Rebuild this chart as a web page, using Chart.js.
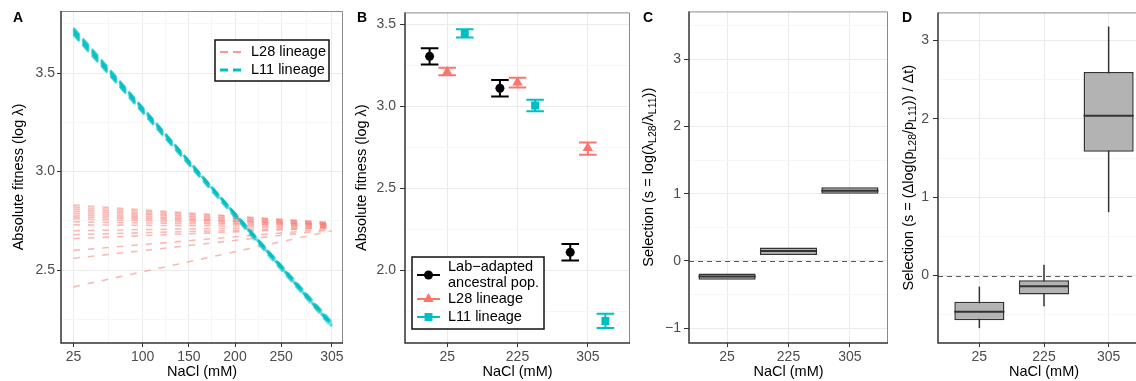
<!DOCTYPE html>
<html>
<head>
<meta charset="utf-8">
<script src="https://cdn.jsdelivr.net/npm/chart.js@4.4.1/dist/chart.umd.min.js"></script>
<style>
  html, body { margin: 0; padding: 0; background: #fff; }
  body { position: relative; width: 1136px; height: 381px; overflow: hidden; }
  canvas { position: absolute; top: 0; }
</style>
</head>
<body>
<canvas id="panelA" width="350" height="381" style="left:0px"></canvas>
<canvas id="panelB" width="286" height="381" style="left:350px"></canvas>
<canvas id="panelC" width="258" height="381" style="left:636px"></canvas>
<canvas id="panelD" width="260" height="381" style="left:894px"></canvas>
<script>
// panel A - fitted fitness vs salt, one line per replicate
var naclEnds = [25, 305];
var l28Start = [2.83, 2.82, 2.81, 2.80, 2.79, 2.78, 2.77, 2.76, 2.745, 2.73, 2.70, 2.68, 2.66, 2.60, 2.56, 2.415];
var l28End   = [2.74, 2.74, 2.735, 2.735, 2.73, 2.73, 2.73, 2.725, 2.725, 2.72, 2.72, 2.715, 2.715, 2.71, 2.705, 2.70];
var l11Start = [3.73, 3.725, 3.72, 3.715, 3.71, 3.705, 3.70, 3.695];
var l11End   = [2.215, 2.22, 2.225, 2.23, 2.22, 2.235, 2.21, 2.225];
var aXTicks = [25, 100, 150, 200, 250, 305];
var aXMinor = [62.5, 125, 175, 225, 277.5];
var aYTicks = [2.5, 3.0, 3.5];
var aYMinor = [2.25, 2.75, 3.25, 3.75];

// panel B - mean fitness with error bars
var salts = ['25', '225', '305'];
var ancMean = [3.305, 3.11, 2.11];
var ancLo   = [3.255, 3.06, 2.06];
var ancHi   = [3.355, 3.16, 2.16];
var l28Mean = [3.21, 3.145, 2.745];
var l28Lo   = [3.19, 3.115, 2.705];
var l28Hi   = [3.235, 3.175, 2.78];
var l11Mean = [3.445, 3.005, 1.69];
var l11Lo   = [3.42, 2.97, 1.648];
var l11Hi   = [3.47, 3.04, 1.735];
var bYTicks = [2.0, 2.5, 3.0, 3.5];
var bYMinor = [1.75, 2.25, 2.75, 3.25];

// panel C - selection from fitness ratio (boxes)
var cQ1  = [-0.28, 0.09, 1.0];
var cMed = [-0.233, 0.146, 1.045];
var cQ3  = [-0.185, 0.20, 1.095];
var cYTicks = [-1, 0, 1, 2, 3];
var cYMinor = [-0.5, 0.5, 1.5, 2.5, 3.5];

// panel D - selection from frequency change (boxplots)
var dLo  = [-0.67, -0.39, 0.81];
var dQ1  = [-0.57, -0.24, 1.58];
var dMed = [-0.46, -0.135, 2.04];
var dQ3  = [-0.335, -0.06, 2.60];
var dHi  = [-0.14, 0.14, 3.18];
var dYTicks = [0, 1, 2, 3];
var dYMinor = [-0.5, 0.5, 1.5, 2.5];

var FONT = '"Liberation Sans", Arial, Helvetica, sans-serif';
var RED = '#F8766D', CYAN = '#00BFC4';

function makeAxis(o) {
  var all = o.major.concat(o.minor || []).sort(function(a, b) { return a - b; });
  function isMajor(c) { return c.tick && o.major.indexOf(c.tick.value) >= 0; }
  var ax = {
    type: 'linear', min: o.min, max: o.max, offset: false,
    afterBuildTicks: function(s) { s.ticks = all.map(function(v) { return {value: v}; }); },
    ticks: {
      autoSkip: false, maxRotation: 0, padding: o.pad, color: '#4d4d4d',
      font: {family: FONT, size: 14},
      callback: function(v) { var i = o.major.indexOf(v); return i < 0 ? '' : o.labels[i]; }
    },
    grid: {
      offset: false,
      color: function(c) { return isMajor(c) ? '#ebebeb' : '#f6f6f6'; },
      tickColor: function(c) { return isMajor(c) ? '#333333' : 'rgba(0,0,0,0)'; },
      tickLength: o.tick, lineWidth: 1
    },
    border: {display: false}
  };
  if (o.width) ax.afterFit = function(s) { s.width = o.width; };
  if (o.height) ax.afterFit = function(s) { s.height = o.height; };
  return ax;
}

function drawYTitle(ctx, cx, cy, segs) {
  ctx.save();
  ctx.translate(cx, cy);
  ctx.rotate(-Math.PI / 2);
  var total = 0;
  segs.forEach(function(s) {
    ctx.font = (s.sub ? '10.5px ' : '14.5px ') + FONT;
    s.w = ctx.measureText(s.t).width;
    total += s.w;
  });
  var x = -total / 2;
  ctx.fillStyle = '#000';
  ctx.textAlign = 'left';
  ctx.textBaseline = 'middle';
  segs.forEach(function(s) {
    ctx.font = (s.sub ? '10.5px ' : '14.5px ') + FONT;
    ctx.fillText(s.t, x, s.sub ? 4 : 0);
    x += s.w;
  });
  ctx.restore();
}

// frame, panel letter and axis titles
function decor(o) {
  return {
    id: 'decor',
    beforeDatasetsDraw: function(chart) {
      var ctx = chart.ctx, a = chart.chartArea;
      if (o.zeroLine) {
        var y = Math.round(chart.scales.y.getPixelForValue(0)) + 0.5;
        ctx.save();
        ctx.strokeStyle = '#5a5a5a';
        ctx.lineWidth = 1;
        ctx.setLineDash([5, 4]);
        ctx.beginPath(); ctx.moveTo(a.left, y); ctx.lineTo(a.right, y); ctx.stroke();
        ctx.restore();
      }
      if (o.before) o.before(chart);
    },
    afterDatasetsDraw: function(chart) { if (o.after) o.after(chart); },
    afterDraw: function(chart) {
      var ctx = chart.ctx, a = chart.chartArea;
      ctx.save();
      ctx.strokeStyle = '#8a8a8a'; ctx.lineWidth = 1;
      ctx.beginPath();
      ctx.moveTo(a.left, a.top + 0.5); ctx.lineTo(a.right - 0.5, a.top + 0.5); ctx.lineTo(a.right - 0.5, a.bottom);
      ctx.stroke();
      ctx.strokeStyle = '#333333'; ctx.lineWidth = 1.5;
      ctx.beginPath();
      ctx.moveTo(a.left, a.top); ctx.lineTo(a.left, a.bottom); ctx.lineTo(a.right, a.bottom);
      ctx.stroke();
      ctx.fillStyle = '#000';
      ctx.font = 'bold 14px ' + FONT;
      ctx.textAlign = 'left'; ctx.textBaseline = 'middle';
      ctx.fillText(o.letter, o.letterX, 18.5);
      ctx.font = '14.5px ' + FONT;
      ctx.textAlign = 'center';
      ctx.fillText('NaCl (mM)', (a.left + a.right) / 2, 371.5);
      ctx.restore();
      drawYTitle(ctx, o.yTitleX, (a.top + a.bottom) / 2, o.yTitle);
      if (o.legend) o.legend(ctx);
    }
  };
}

function baseOptions(pad) {
  return {
    responsive: false, animation: false, devicePixelRatio: 1,
    layout: {padding: {top: 11, right: pad, left: 0, bottom: 0}},
    plugins: {legend: {display: false}, tooltip: {enabled: false}}
  };
}

// ---------- A ----------
var dsA = [];
l11Start.forEach(function(v, i) {
  dsA.push({data: [{x: naclEnds[0], y: v}, {x: naclEnds[1], y: l11End[i]}],
    borderColor: 'rgba(0,191,196,0.55)', borderWidth: 2.6, borderDash: [9, 5],
    pointRadius: 0, fill: false, order: 0});
});
l28Start.forEach(function(v, i) {
  dsA.push({data: [{x: naclEnds[0], y: v}, {x: naclEnds[1], y: l28End[i]}],
    borderColor: 'rgba(248,118,109,0.5)', borderWidth: 1.6, borderDash: [6.5, 8],
    pointRadius: 0, fill: false, order: 1});
});

var optA = baseOptions(7);
optA.scales = {
  x: makeAxis({min: 11.5, max: 317, major: aXTicks, minor: aXMinor, labels: aXTicks.map(String), pad: 2, tick: 4, height: 38}),
  y: makeAxis({min: 2.13, max: 3.815, major: aYTicks, minor: aYMinor, labels: aYTicks.map(function(v) { return v.toFixed(1); }), pad: 2, tick: 4, width: 61})
};
new Chart(document.getElementById('panelA'), {
  type: 'line',
  data: {datasets: dsA},
  options: optA,
  plugins: [decor({
    letter: 'A', letterX: 13, yTitleX: 19,
    yTitle: [{t: 'Absolute fitness (log λ)'}],
    legend: function(ctx) {
      ctx.save();
      ctx.fillStyle = '#fff';
      ctx.fillRect(215, 40, 114, 41);
      ctx.strokeStyle = '#111'; ctx.lineWidth = 1.5;
      ctx.strokeRect(215, 40, 114, 41);
      var rows = [{c: 'rgba(248,118,109,0.75)', w: 1.8, t: 'L28 lineage', y: 52},
                  {c: CYAN, w: 3, t: 'L11 lineage', y: 70}];
      rows.forEach(function(r) {
        ctx.strokeStyle = r.c; ctx.lineWidth = r.w; ctx.setLineDash([8, 5]);
        ctx.beginPath(); ctx.moveTo(220, r.y); ctx.lineTo(243, r.y); ctx.stroke();
        ctx.setLineDash([]);
        ctx.fillStyle = '#000'; ctx.font = '14.5px ' + FONT;
        ctx.textAlign = 'left'; ctx.textBaseline = 'middle';
        ctx.fillText(r.t, 251, r.y);
      });
      ctx.restore();
    }
  })]
});

// ---------- B ----------
var seriesB = [
  {name: ['Lab\u2212adapted', 'ancestral pop.'], mean: ancMean, lo: ancLo, hi: ancHi, off: -0.25, color: '#000000', style: 'circle', r: 4.5},
  {name: ['L28 lineage'], mean: l28Mean, lo: l28Lo, hi: l28Hi, off: 0, color: RED, style: 'triangle', r: 6},
  {name: ['L11 lineage'], mean: l11Mean, lo: l11Lo, hi: l11Hi, off: 0.25, color: CYAN, style: 'rect', r: 5.6}
];
var dsB = seriesB.map(function(s) {
  return {
    data: s.mean.map(function(v, i) { return {x: i + 1 + s.off, y: v}; }),
    pointStyle: s.style, pointRadius: s.r, backgroundColor: s.color, borderColor: s.color,
    borderWidth: 0, showLine: false
  };
});

function marker(ctx, style, x, y, r) {
  ctx.beginPath();
  if (style === 'circle') {
    ctx.arc(x, y, r, 0, Math.PI * 2);
  } else if (style === 'triangle') {
    ctx.moveTo(x, y - r); ctx.lineTo(x + 0.866 * r, y + 0.5 * r); ctx.lineTo(x - 0.866 * r, y + 0.5 * r);
    ctx.closePath();
  } else {
    var h = r * Math.SQRT1_2;
    ctx.rect(x - h, y - h, 2 * h, 2 * h);
  }
  ctx.fill();
}

var optB = baseOptions(6);
optB.scales = {
  x: makeAxis({min: 0.4, max: 3.6, major: [1, 2, 3], labels: salts, pad: 2, tick: 4, height: 38}),
  y: makeAxis({min: 1.556, max: 3.573, major: bYTicks, labels: bYTicks.map(function(v) { return v.toFixed(1); }), minor: bYMinor, pad: 4, tick: 5, width: 55})
};
new Chart(document.getElementById('panelB'), {
  type: 'scatter',
  data: {datasets: dsB},
  options: optB,
  plugins: [decor({
    letter: 'B', letterX: 7, yTitleX: 12,
    yTitle: [{t: 'Absolute fitness (log λ)'}],
    before: function(chart) {
      var ctx = chart.ctx, xs = chart.scales.x, ys = chart.scales.y;
      ctx.save();
      ctx.lineWidth = 2;
      seriesB.forEach(function(s) {
        ctx.strokeStyle = s.color;
        s.mean.forEach(function(v, i) {
          var xc = xs.getPixelForValue(i + 1 + s.off);
          var xl = xs.getPixelForValue(i + 1 + s.off - 0.125);
          var xr = xs.getPixelForValue(i + 1 + s.off + 0.125);
          var y1 = ys.getPixelForValue(s.lo[i]), y2 = ys.getPixelForValue(s.hi[i]);
          ctx.beginPath();
          ctx.moveTo(xc, y1); ctx.lineTo(xc, y2);
          ctx.moveTo(xl, y1); ctx.lineTo(xr, y1);
          ctx.moveTo(xl, y2); ctx.lineTo(xr, y2);
          ctx.stroke();
        });
      });
      ctx.restore();
    },
    legend: function(ctx) {
      ctx.save();
      ctx.fillStyle = '#fff';
      ctx.fillRect(62, 257, 132, 72);
      ctx.strokeStyle = '#111'; ctx.lineWidth = 1.5;
      ctx.strokeRect(62, 257, 132, 72);
      var ys = [275, 299, 317];
      ctx.font = '14.5px ' + FONT;
      ctx.textAlign = 'left'; ctx.textBaseline = 'middle';
      seriesB.forEach(function(s, k) {
        var y = ys[k];
        ctx.strokeStyle = s.color; ctx.fillStyle = s.color; ctx.lineWidth = 2;
        ctx.beginPath(); ctx.moveTo(67, y); ctx.lineTo(90, y); ctx.stroke();
        marker(ctx, s.style, 78.5, y, s.r);
        ctx.fillStyle = '#000';
        if (s.name.length === 2) {
          ctx.fillText(s.name[0], 98, y - 8);
          ctx.fillText(s.name[1], 98, y + 8);
        } else {
          ctx.fillText(s.name[0], 98, y);
        }
      });
      ctx.restore();
    }
  })]
});

// ---------- C and D (boxes) ----------
function boxData(q1, q3) {
  return q1.map(function(v, i) { return {x: i + 1, y: [v, q3[i]]}; });
}
function boxPlugin(med, lo, hi) {
  return {
    before: function(chart) {
      if (!lo) return;
      var ctx = chart.ctx, ys = chart.scales.y, meta = chart.getDatasetMeta(0);
      ctx.save();
      ctx.strokeStyle = '#333333'; ctx.lineWidth = 1.5;
      meta.data.forEach(function(el, i) {
        ctx.beginPath();
        ctx.moveTo(el.x, ys.getPixelForValue(lo[i]));
        ctx.lineTo(el.x, ys.getPixelForValue(hi[i]));
        ctx.stroke();
      });
      ctx.restore();
    },
    after: function(chart) {
      var ctx = chart.ctx, ys = chart.scales.y, meta = chart.getDatasetMeta(0);
      ctx.save();
      ctx.strokeStyle = '#333333'; ctx.lineWidth = 2;
      meta.data.forEach(function(el, i) {
        var y = ys.getPixelForValue(med[i]);
        ctx.beginPath();
        ctx.moveTo(el.x - el.width / 2, y); ctx.lineTo(el.x + el.width / 2, y);
        ctx.stroke();
      });
      ctx.restore();
    }
  };
}

var optC = baseOptions(6);
optC.scales = {
  x: makeAxis({min: 0.38, max: 3.62, major: [1, 2, 3], labels: salts, pad: 2, tick: 4, height: 38}),
  y: makeAxis({min: -1.22, max: 3.71, major: cYTicks, minor: cYMinor, labels: cYTicks.map(function(v) { return v < 0 ? '\u2212' + Math.abs(v) : String(v); }), pad: 3, tick: 5, width: 53})
};
var bpC = boxPlugin(cMed, null, null);
new Chart(document.getElementById('panelC'), {
  type: 'bar',
  data: {datasets: [{data: boxData(cQ1, cQ3), backgroundColor: '#b3b3b3', borderColor: '#333333',
    borderWidth: 1.5, borderSkipped: false, categoryPercentage: 1, barPercentage: 0.93}]},
  options: optC,
  plugins: [decor({
    letter: 'C', letterX: 7, yTitleX: 13, zeroLine: true,
    yTitle: [{t: 'Selection (s = log(λ'}, {t: 'L28', sub: true}, {t: '/λ'}, {t: 'L11', sub: true}, {t: '))'}],
    before: bpC.before, after: bpC.after
  })]
});

var optD = baseOptions(4);
optD.scales = {
  x: makeAxis({min: 0.36, max: 3.64, major: [1, 2, 3], labels: salts, pad: 2, tick: 4, height: 38}),
  y: makeAxis({min: -0.86, max: 3.36, major: dYTicks, minor: dYMinor, labels: dYTicks.map(String), pad: 4, tick: 5, width: 44})
};
var bpD = boxPlugin(dMed, dLo, dHi);
new Chart(document.getElementById('panelD'), {
  type: 'bar',
  data: {datasets: [{data: boxData(dQ1, dQ3), backgroundColor: '#b3b3b3', borderColor: '#333333',
    borderWidth: 1.5, borderSkipped: false, categoryPercentage: 1, barPercentage: 0.775}]},
  options: optD,
  plugins: [decor({
    letter: 'D', letterX: 8, yTitleX: 15, zeroLine: true,
    yTitle: [{t: 'Selection (s = (Δlog(p'}, {t: 'L28', sub: true}, {t: '/p'}, {t: 'L11', sub: true}, {t: ')) / Δt)'}],
    before: bpD.before, after: bpD.after
  })]
});
</script>
</body>
</html>
